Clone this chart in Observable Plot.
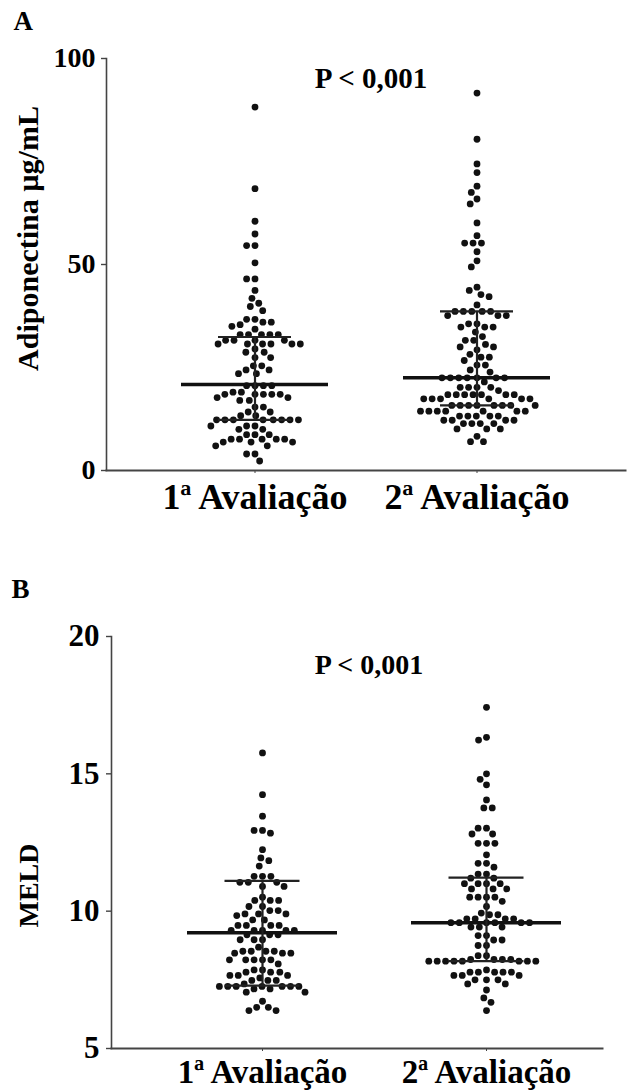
<!DOCTYPE html>
<html><head><meta charset="utf-8">
<script src="https://cdn.jsdelivr.net/npm/d3@7"></script>
<script src="https://cdn.jsdelivr.net/npm/@observablehq/plot@0.6"></script>
<style>
html,body{margin:0;padding:0;background:#fff;}
#wrap{position:relative;width:632px;height:1090px;overflow:hidden;background:#fff;}
#panelA{position:absolute;left:0;top:0;}
#panelB{position:absolute;left:0;top:560px;}
</style></head><body>
<div id="wrap"><div id="panelA"></div><div id="panelB"></div></div>
<script>
// ---------- data ----------
const groups = ["1ª Avaliação", "2ª Avaliação"];
const pText = "P < 0,001";

// Panel A: Adiponectina µg/mL
const adipoLabel = "Adiponectina µg/mL";
const adipoTicks = [0, 50, 100];
const adipo1 = [88.2, 68.4, 60.5, 57.4, 54.6, 54.6, 50.4, 46.5, 46.5, 43.7, 41.8, 40.6, 39.8, 38.8,
  36.7, 36.7, 36.0, 36.0, 35.4, 35.0, 34.3, 33.0, 33.0, 33.0, 33.0, 33.0, 31.6, 31.6, 31.6, 31.6,
  30.7, 30.7, 30.7, 30.7, 30.7, 30.7, 29.5, 28.7, 28.7, 27.4, 27.4, 25.4, 25.4, 24.4, 24.4, 23.5, 23.5,
  20.6, 20.6, 20.6, 20.6, 19.0, 19.0, 18.5, 18.5, 18.5, 18.5, 18.5, 17.7, 17.7, 17.0, 17.0,
  15.4, 15.4, 14.2, 14.2, 13.3, 13.3, 12.3, 12.3, 12.3, 12.3, 12.3, 12.3, 12.3, 12.3,
  10.8, 10.8, 10.8, 10.0, 10.0, 8.7, 8.7, 8.7, 7.6, 7.6, 7.6, 7.6, 7.6, 6.9, 6.9, 6.9, 6.0, 6.0, 4.0, 4.0, 2.3];
const adipo2 = [91.6, 80.4, 74.4, 72.3, 69.0, 67.5, 65.9, 64.7, 60.1, 57.0, 55.2, 55.2, 55.2, 53.1, 50.9, 49.4,
  44.5, 43.7, 42.7, 42.2, 40.2, 38.6, 38.6, 38.6, 38.6, 38.6, 37.6, 37.6, 37.6, 35.6, 35.6,
  34.8, 34.8, 34.8, 33.6, 32.5, 31.6, 31.6, 30.6, 30.0, 30.0, 29.3, 28.2, 27.5, 27.5, 26.7, 25.6, 25.6,
  24.4, 23.9, 22.5, 22.5, 22.5, 22.5, 22.5, 22.5, 22.5, 21.5, 20.2, 20.2, 20.2, 20.2, 19.4,
  18.4, 18.4, 18.4, 18.4, 18.4, 18.4, 18.4, 17.4, 17.4, 17.4, 17.4, 17.4, 17.4,
  15.8, 15.8, 15.8, 15.8, 15.8, 15.8, 15.8, 15.8, 14.4, 14.4, 14.4, 14.4, 14.4, 14.4, 14.4,
  13.2, 13.2, 13.2, 13.2, 13.2, 12.2, 12.2, 12.2, 12.2, 11.4, 11.4, 11.4, 11.4, 10.1, 10.1, 10.1, 8.3, 7.0, 7.0];
const adipoMedian = [20.9, 22.5];
const adipoQ1 = [12.3, 15.8];
const adipoQ3 = [32.4, 38.6];

// Panel B: MELD
const meldLabel = "MELD";
const meldTicks = [5, 10, 15, 20];
const meld1 = [15.76, 14.24, 13.46, 12.94, 12.94, 12.84, 12.24, 11.94, 11.84, 11.64, 11.27, 11.27, 11.27,
  11.05, 11.05, 11.05, 10.9, 10.9, 10.51, 10.39, 10.39, 10.39, 10.17, 10.17, 10.02, 10.02,
  9.90, 9.90, 9.90, 9.84, 9.68, 9.68, 9.48, 9.48, 9.48, 9.48, 9.30, 9.30, 9.30, 9.30, 9.30,
  9.14, 9.14, 9.14, 8.96, 8.96, 8.96, 8.69, 8.54, 8.54, 8.54, 8.54, 8.47, 8.47, 8.47,
  8.23, 8.23, 8.23, 8.23, 8.23, 8.08, 7.86, 7.86, 7.78, 7.78, 7.78, 7.66, 7.66, 7.66, 7.57,
  7.48, 7.48, 7.48, 7.35, 7.26, 7.26, 7.26, 7.26, 7.26, 7.26, 7.26, 7.17, 7.17, 7.05, 7.05,
  6.72, 6.50, 6.50, 6.38, 6.38];
const meld2 = [17.42, 16.33, 16.23, 15.0, 14.8, 14.6, 14.05, 13.76, 13.76, 13.02, 13.02, 12.81, 12.81,
  12.47, 12.47, 12.47, 12.05, 11.74, 11.74, 11.6, 11.35, 11.35, 11.2, 11.2, 11.0, 11.0, 11.0, 11.0,
  10.81, 10.81, 10.81, 10.51, 10.51, 10.51, 10.51, 10.36, 10.17, 9.93, 9.87, 9.87, 9.72, 9.72, 9.72, 9.72,
  9.58, 9.58, 9.58, 9.58, 9.58, 9.58, 9.42, 9.42, 9.42, 9.11, 9.11, 8.95, 8.95, 8.75, 8.75, 8.38, 8.38,
  8.24, 8.24, 8.24, 8.24, 8.18, 8.18, 8.18, 8.18, 8.18, 8.18, 8.18, 8.18, 7.86,
  7.78, 7.78, 7.78, 7.78, 7.78, 7.66, 7.66, 7.66, 7.5, 7.5, 7.5, 7.35, 7.35, 7.13, 6.84, 6.68, 6.38];
const meldMedian = [9.21, 9.58];
const meldQ1 = [7.29, 8.18];
const meldQ3 = [11.10, 11.22];

// ---------- drawing ----------
const FONT = "'Liberation Serif', 'Times New Roman', serif";
const INK = "#111";
const AXIS = "#444";

// shift a dodged swarm (centered on the frame) onto its group's band
// (the dot mark itself adds the half-bandwidth offset when rendering)
function centerOn(group) {
  return function (data, facets, channels, scales, dimensions) {
    const {marginLeft, width, marginRight} = dimensions;
    const mid = (marginLeft + width - marginRight) / 2;
    const cx = scales.x(group);
    const X = Float64Array.from(channels.x.value, (v) => v + cx - mid);
    return {data, facets, channels: {x: {value: X}}};
  };
}

function swarm(values, group) {
  return Plot.dot(values, Plot.initializer(
    Plot.dodgeX({anchor: "middle", padding: 1.6}, {y: Plot.identity, r: 3.4, fill: INK}),
    centerOn(group)));
}

function panel(cfg) {
  const stats = groups.map((g, i) => ({g, median: cfg.median[i], q1: cfg.q1[i], q3: cfg.q3[i]}));
  return Plot.plot({
    width: 632,
    height: cfg.height,
    marginLeft: cfg.marginLeft,
    marginRight: cfg.marginRight,
    marginTop: cfg.marginTop,
    marginBottom: cfg.marginBottom,
    style: {fontFamily: FONT, fontWeight: "bold", color: "black", background: "white", overflow: "visible"},
    x: {type: "band", domain: groups, range: cfg.xRange, paddingInner: cfg.paddingInner, paddingOuter: 0, axis: null},
    y: {domain: cfg.yDomain, axis: null},
    marks: [
      Plot.frame({anchor: "left", stroke: AXIS, strokeWidth: 1.6}),
      Plot.frame({anchor: "bottom", stroke: AXIS, strokeWidth: 2}),
      Plot.axisY({ticks: cfg.yTicks, tickSize: 5, tickPadding: cfg.yTickPadding, fontSize: cfg.yFont,
        stroke: AXIS, strokeWidth: 1.4, label: null}),
      Plot.axisX({tickSize: 3, tickPadding: cfg.xTickPadding, fontSize: cfg.xFont, stroke: AXIS, label: null}),
      swarm(cfg.values[0], groups[0]),
      swarm(cfg.values[1], groups[1]),
      Plot.tickY(stats, {x: "g", y: "median", stroke: "#111", strokeWidth: 3.5}),
      Plot.tickY(stats, {x: "g", y: "q1", stroke: "#222", strokeWidth: 2.2, insetLeft: cfg.iqrInset, insetRight: cfg.iqrInset}),
      Plot.tickY(stats, {x: "g", y: "q3", stroke: "#222", strokeWidth: 2.2, insetLeft: cfg.iqrInset, insetRight: cfg.iqrInset}),
      Plot.ruleX(stats, {x: "g", y1: "q1", y2: "q3", stroke: "#222", strokeWidth: 2.2}),
      Plot.text([pText], {frameAnchor: "top", lineAnchor: "middle", dx: cfg.pDx, dy: cfg.pDy, fontSize: cfg.pFont, fill: "black"}),
      Plot.text([cfg.yLabel], {frameAnchor: "left", textAnchor: "middle", rotate: -90, lineAnchor: "middle", dx: cfg.labelDx, dy: cfg.labelDy, fontSize: cfg.labelFont, fill: "black"}),
      Plot.text([cfg.letter], {frameAnchor: "top-left", textAnchor: "start", lineAnchor: "middle", dx: cfg.letterDx, dy: cfg.letterDy, fontSize: 27, fill: "black"})
    ]
  });
}

document.getElementById("panelA").append(panel({
  letter: "A",
  values: [adipo1, adipo2], median: adipoMedian, q1: adipoQ1, q3: adipoQ3,
  yDomain: [0, 100], yTicks: adipoTicks, yLabel: adipoLabel,
  height: 540, marginLeft: 106, marginRight: 7, marginTop: 58, marginBottom: 70,
  xRange: [180.5, 549.5], paddingInner: 0.338, iqrInset: 37,
  yFont: 28, yTickPadding: 6, xFont: 36, xTickPadding: 10,
  pFont: 29, pDx: 5, pDy: 20,
  labelFont: 30, labelDx: -78, labelDy: -26,
  letterDx: -93, letterDy: -37
}));

document.getElementById("panelB").append(panel({
  letter: "B",
  values: [meld1, meld2], median: meldMedian, q1: meldQ1, q3: meldQ3,
  yDomain: [5, 20], yTicks: meldTicks, yLabel: meldLabel,
  height: 530, marginLeft: 111, marginRight: 30, marginTop: 76, marginBottom: 42,
  xRange: [187, 561.5], paddingInner: 0.332, iqrInset: 37.5,
  yFont: 31, yTickPadding: 7, xFont: 33, xTickPadding: 8,
  pFont: 28, pDx: 12, pDy: 29,
  labelFont: 28, labelDx: -82, labelDy: 43,
  letterDx: -100, letterDy: -47
}));
</script></body></html>
